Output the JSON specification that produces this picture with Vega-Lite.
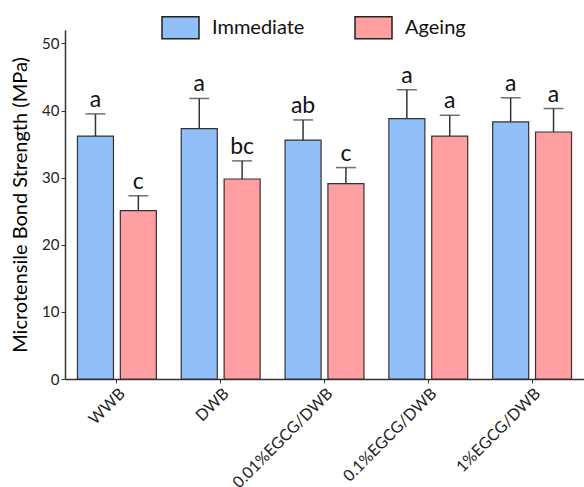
{
  "$schema": "https://vega.github.io/schema/vega-lite/v6.json",
  "autosize": {"type": "none"},
  "padding": {"left": 65, "top": 30, "right": 0, "bottom": 108},
  "width": 519,
  "height": 349,
  "background": "white",
  "config": {
    "view": {"stroke": null},
    "font": "Lato",
    "axis": {"grid": false, "domainColor": "#333333", "tickColor": "#333333", "labelColor": "#222222", "titleColor": "#000000", "labelFont": "Lato", "titleFont": "Lato"}
  },
  "data": {
    "values": [
      {"group": "WWB", "cond": "Immediate", "mean": 36.2, "upper": 39.5, "letter": "a"},
      {"group": "WWB", "cond": "Ageing", "mean": 25.1, "upper": 27.3, "letter": "c"},
      {"group": "DWB", "cond": "Immediate", "mean": 37.3, "upper": 41.8, "letter": "a"},
      {"group": "DWB", "cond": "Ageing", "mean": 29.8, "upper": 32.5, "letter": "bc"},
      {"group": "0.01%EGCG/DWB", "cond": "Immediate", "mean": 35.6, "upper": 38.6, "letter": "ab"},
      {"group": "0.01%EGCG/DWB", "cond": "Ageing", "mean": 29.1, "upper": 31.5, "letter": "c"},
      {"group": "0.1%EGCG/DWB", "cond": "Immediate", "mean": 38.8, "upper": 43.1, "letter": "a"},
      {"group": "0.1%EGCG/DWB", "cond": "Ageing", "mean": 36.2, "upper": 39.3, "letter": "a"},
      {"group": "1%EGCG/DWB", "cond": "Immediate", "mean": 38.3, "upper": 41.9, "letter": "a"},
      {"group": "1%EGCG/DWB", "cond": "Ageing", "mean": 36.8, "upper": 40.3, "letter": "a"}
    ]
  },
  "encoding": {
    "x": {
      "field": "group", "type": "nominal",
      "sort": ["WWB", "DWB", "0.01%EGCG/DWB", "0.1%EGCG/DWB", "1%EGCG/DWB"],
      "scale": {"paddingInner": 0.24, "paddingOuter": 0.12},
      "axis": {"title": null, "labelAngle": -45, "labelAlign": "right", "labelBaseline": "top", "labelFontSize": 16, "tickSize": 4, "labelPadding": 2, "domainWidth": 1.5, "labelLimit": 200}
    },
    "xOffset": {
      "field": "cond", "type": "nominal",
      "sort": ["Immediate", "Ageing"],
      "scale": {"paddingInner": 0.16, "paddingOuter": 0}
    }
  },
  "layer": [
    {
      "mark": {"type": "bar", "stroke": "#333333", "strokeWidth": 1.2},
      "encoding": {
        "y": {
          "field": "mean", "type": "quantitative",
          "scale": {"domain": [0, 52], "nice": false},
          "axis": {"title": "Microtensile Bond Strength (MPa)", "values": [0, 10, 20, 30, 40, 50], "titleFontSize": 20, "titleFontWeight": "normal", "labelFontSize": 15, "tickSize": 4, "labelPadding": 2, "titlePadding": 11, "domainWidth": 1.5}
        },
        "color": {
          "field": "cond", "type": "nominal",
          "scale": {"domain": ["Immediate", "Ageing"], "range": ["#91BFF9", "#FF9FA1"]},
          "legend": {
            "title": null, "orient": "none", "direction": "horizontal",
            "legendX": 96, "legendY": -22,
            "symbolType": "M-1,-0.595H1V0.595H-1Z", "symbolSize": 1369,
            "symbolStrokeColor": "#222222", "symbolStrokeWidth": 1.5,
            "labelFontSize": 20, "labelColor": "#111111", "labelOffset": 12,
            "columnPadding": 47, "labelFont": "Lato"
          }
        }
      }
    },
    {
      "mark": {"type": "rule", "color": "#333333", "strokeWidth": 1.5},
      "encoding": {
        "y": {"field": "mean", "type": "quantitative"},
        "y2": {"field": "upper"}
      }
    },
    {
      "mark": {"type": "tick", "orient": "horizontal", "size": 20, "thickness": 1.5, "color": "#333333"},
      "encoding": {
        "y": {"field": "upper", "type": "quantitative"}
      }
    },
    {
      "mark": {"type": "text", "fontSize": 23, "baseline": "alphabetic", "dy": -7, "color": "#111111", "font": "Lato"},
      "encoding": {
        "y": {"field": "upper", "type": "quantitative"},
        "text": {"field": "letter"}
      }
    }
  ]
}
